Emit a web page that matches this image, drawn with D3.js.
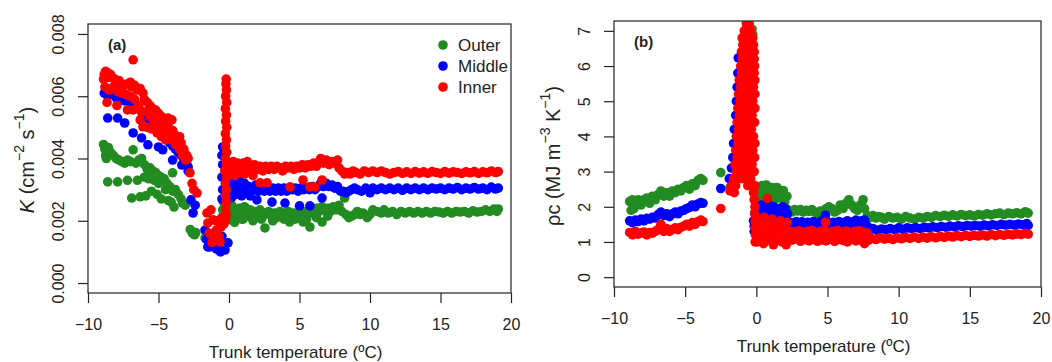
<!DOCTYPE html>
<html>
<head>
<meta charset="utf-8">
<script src="https://cdn.jsdelivr.net/npm/d3@7"></script>
<style>
  body { margin: 0; background: #fff; }
  svg { display: block; font-family: "Liberation Sans", Arial, Helvetica, sans-serif; }
</style>
</head>
<body>
<svg id="chart" width="1052" height="362"></svg>
<script>
// Axis ticks and series
const tempTicks = [-10, -5, 0, 5, 10, 15, 20];
const kTicks = [0, 0.002, 0.004, 0.006, 0.008];
const rcTicks = [0, 1, 2, 3, 4, 5, 6, 7];
const seriesNames = ["Outer", "Middle", "Inner"];
const seriesColors = ["#228B22", "#0000FF", "#FF0000"];

// Panel (a): [trunk temperature (°C), K in 1e-3 cm2 s-1]
const outerK = [
  [-8.9,4.45],[-8.8,4.3],[-8.75,4.1],[-8.7,4.0],[-8.55,4.35],[-8.4,4.2],[-8.6,3.25],[-8.2,4.1],[-8.0,4.0],
  [-7.9,3.25],[-7.8,3.95],[-7.6,3.9],[-7.4,3.85],[-7.2,3.3],[-7.2,3.95],[-7.0,3.9],[-6.9,2.73],[-6.8,4.28],
  [-6.6,3.85],[-6.5,3.3],[-6.4,3.95],[-6.3,2.77],[-6.2,4.0],[-6.0,3.8],[-6.0,3.4],[-5.9,2.8],[-5.8,3.65],
  [-5.7,3.35],[-5.6,3.7],[-5.5,2.95],[-5.4,3.6],[-5.3,3.3],[-5.2,3.55],[-5.1,2.85],[-5.0,3.45],[-5.0,3.2],
  [-4.8,3.4],[-4.8,2.7],[-4.6,3.35],[-4.5,3.0],[-4.4,3.2],[-4.3,2.65],[-4.2,3.1],[-4.1,2.6],[-4.0,3.54],
  [-4.0,2.95],[-3.9,2.44],[-3.8,3.0],[-3.6,2.85],[-3.4,2.7],[-3.3,2.57],[-3.1,2.5],[-2.75,1.72],[-2.6,1.6],
  [-2.45,1.55],[-2.35,1.62],[-1.7,1.45],
  [-0.5,2.1],[-0.45,2.35],[-0.4,2.6],[-0.3,2.7],[-0.2,2.4],[-0.1,2.2],[0.0,2.05],[0.1,2.3],[0.2,2.5],[0.3,2.2],
  [0.3,2.0],[0.4,1.95],[0.5,2.35],[0.6,2.15],[0.7,2.4],[0.8,2.2],[0.9,2.05],[1.0,2.3],[1.0,2.05],[1.1,2.45],
  [1.2,2.15],[1.3,2.25],[1.5,2.35],[1.6,2.1],[1.7,2.0],[1.8,2.3],[2.0,2.2],[2.2,2.35],[2.3,2.05],[2.4,2.15],
  [2.55,1.77],[2.6,2.25],[2.8,2.3],[3.0,2.15],[3.1,2.0],[3.2,2.25],[3.4,2.1],[3.6,2.3],[3.8,2.2],[3.9,2.05],
  [4.0,2.25],[4.3,1.96],[4.2,2.3],[4.4,2.15],[4.6,2.25],[4.7,2.05],[4.8,2.2],[5.0,2.3],[5.2,2.2],[5.25,1.96],
  [5.4,2.3],[5.5,2.05],[5.6,2.2],[5.74,1.8],[5.8,2.35],[6.0,2.25],[6.2,2.4],[6.2,2.1],[6.4,2.3],[6.6,1.96],
  [6.6,2.45],[6.8,2.35],[7.0,2.4],[7.0,2.15],[7.2,2.3],[7.4,2.45],[7.6,2.35],[7.8,2.5],[8.0,2.3],[8.2,2.73],
  [8.3,2.2],[8.5,2.1],[8.7,2.15],[8.9,2.2],[9.1,2.3],[9.3,2.2],[9.5,2.25],[9.8,2.1],[10.0,2.2],[10.2,2.35],
  [10.5,2.3],[10.8,2.25],[11.0,2.35],[11.3,2.25],[11.6,2.3],[11.9,2.2],[12.2,2.3],[12.5,2.25],[12.8,2.3],
  [13.1,2.25],[13.4,2.3],[13.7,2.25],[14.0,2.3],[14.3,2.25],[14.6,2.3],[14.9,2.28],[15.2,2.25],[15.5,2.3],
  [15.8,2.25],[16.1,2.3],[16.4,2.28],[16.7,2.3],[17.0,2.25],[17.3,2.32],[17.6,2.28],[17.9,2.3],[18.2,2.35],
  [18.5,2.3],[18.8,2.38],[19.0,2.3],[19.1,2.38]
];
const middleK = [
  [-8.85,6.1],[-8.7,6.2],[-8.6,6.0],[-8.4,6.15],[-8.2,6.05],[-8.0,5.95],[-7.8,6.0],[-7.6,5.9],[-7.4,5.85],
  [-7.2,5.95],[-7.0,5.8],[-6.8,5.75],[-6.6,5.7],[-6.4,5.6],[-6.2,5.5],[-6.0,5.4],[-5.8,5.3],[-5.6,5.2],
  [-5.4,5.1],[-5.2,5.0],[-5.0,4.9],[-4.8,4.8],[-4.6,4.7],[-4.4,4.6],[-4.2,4.5],[-4.0,4.4],[-3.8,4.3],
  [-3.6,4.2],[-3.4,4.1],[-3.2,3.95],[-3.0,3.8],[-2.9,3.6],
  [-8.6,5.3],[-7.9,5.3],[-7.4,5.14],[-6.8,4.82],[-6.2,4.66],[-5.75,4.44],[-5.0,4.37],[-4.7,4.28],[-4.0,3.95],
  [-3.35,3.79],[-2.9,3.73],[-2.7,2.67],[-2.55,2.25],[-2.4,2.5],[-1.7,1.7],[-1.6,1.4],[-1.5,1.16],[-1.35,1.16],
  [-1.2,1.2],[-1.1,1.3],[-0.9,1.1],[-0.7,1.05],[-0.6,1.0],[-0.28,1.06],[-0.07,1.29],
  [-0.5,1.5],[-0.45,2.0],[-0.5,2.7],[-0.45,3.0],[-0.5,3.4],[-0.45,3.8],[-0.5,4.1],[-0.45,4.37],
  [-0.2,3.1],[0.0,2.9],[0.1,3.2],[0.2,2.75],[0.3,3.05],[0.4,3.3],[0.5,2.85],[0.6,3.1],[0.7,2.95],[0.8,3.25],
  [0.9,2.8],[1.0,3.05],[1.1,3.2],[1.2,2.9],[1.4,3.1],[1.5,2.8],[1.7,3.0],[1.9,3.15],[1.98,2.67],[2.1,2.95],
  [2.3,3.1],[2.5,2.95],[2.7,3.05],[2.9,2.95],[3.05,2.6],[3.1,3.05],[3.3,2.95],[3.5,3.05],[3.7,2.95],
  [3.97,2.57],[3.9,3.05],[4.1,2.95],[4.3,3.05],[4.5,3.0],[4.7,3.05],[5.0,2.48],[4.9,2.95],[5.1,3.05],
  [5.3,3.0],[5.5,3.05],[5.74,2.48],[5.7,3.0],[5.9,3.1],[6.1,3.0],[6.3,3.1],[6.5,3.2],[6.6,2.73],[6.7,3.1],
  [6.9,3.2],[7.1,3.1],[7.3,3.15],[7.5,3.05],[7.7,3.1],[7.9,2.95],[8.1,2.95],[8.3,2.9],[8.5,2.95],[8.7,3.0],
  [8.9,3.05],[9.1,3.0],[9.4,2.95],[9.7,3.05],[10.0,2.9],[10.2,3.05],[10.5,3.0],[10.8,3.05],[11.1,3.0],
  [11.4,3.05],[11.7,3.0],[12.0,3.05],[12.3,2.98],[12.6,3.05],[12.9,3.0],[13.2,3.05],[13.5,3.0],[13.8,3.05],
  [14.1,3.0],[14.4,3.05],[14.7,3.02],[15.0,3.05],[15.3,3.0],[15.6,3.05],[15.9,3.02],[16.2,3.07],[16.5,3.0],
  [16.8,3.05],[17.1,3.02],[17.4,3.07],[17.7,3.02],[18.0,3.05],[18.3,3.0],[18.6,3.08],[18.9,3.02],[19.1,3.05]
];
const innerK = [
  [-8.9,6.55],[-8.85,6.7],[-8.75,6.8],[-8.6,6.75],[-8.5,6.6],[-8.4,6.7],[-8.3,6.6],[-8.1,6.55],[-8.0,6.45],
  [-7.8,6.5],[-7.6,6.4],[-7.4,6.35],[-7.2,6.4],[-7.0,6.45],[-6.8,7.17],[-6.9,6.3],[-6.7,6.35],[-6.5,6.2],
  [-6.3,6.25],[-6.1,6.1],[-6.0,5.9],[-5.8,5.8],[-5.6,5.7],[-5.4,5.6],[-5.2,5.55],[-5.0,5.45],[-4.8,5.35],
  [-4.6,5.2],[-4.4,5.1],[-4.33,5.3],[-4.2,4.95],[-4.0,4.9],[-3.8,4.75],[-3.6,4.6],[-3.4,4.5],[-3.2,4.3],
  [-3.0,4.1],[-2.9,4.0],
  [-8.8,6.3],[-8.5,6.2],[-8.2,6.3],[-7.9,6.15],[-7.6,6.1],[-7.3,6.05],[-7.0,6.0],[-6.7,5.9],[-6.4,5.7],
  [-6.2,5.5],[-5.9,5.5],[-5.6,5.35],[-5.3,5.2],[-5.0,5.1],[-4.7,4.95],[-4.4,4.85],[-4.1,4.6],[-3.8,4.45],
  [-3.5,4.3],[-3.3,4.1],[-3.1,3.95],
  [-8.65,5.8],[-7.95,5.7],[-7.2,5.56],[-6.8,5.56],[-6.3,5.24],[-6.1,5.02],[-5.8,5.0],[-5.5,4.95],[-5.1,4.82],
  [-4.8,4.7],[-4.5,4.6],[-4.05,5.24],[-3.5,4.7],[-2.98,4.05],[-2.77,3.54],[-2.62,3.2],[-2.5,3.0],
  [-2.27,2.89],[-1.56,2.25],[-1.28,2.35],[-1.5,1.93],[-1.4,1.6],[-1.13,1.48],[-1.13,2.03],[-0.9,1.7],
  [-0.9,2.0],[-0.64,1.32],[-0.57,1.8],[-0.5,2.1],[-1.2,1.3],[-0.7,1.5],[-0.35,1.9],
  [-0.26,2.0],[-0.18,2.2],[-0.24,2.4],[-0.16,2.6],[-0.24,2.8],[-0.18,3.0],[-0.26,3.2],[-0.16,3.4],
  [-0.24,3.6],[-0.18,3.8],[-0.26,4.0],[-0.16,4.2],[-0.24,4.4],[-0.18,4.6],[-0.26,4.8],[-0.16,5.0],
  [-0.24,5.2],[-0.18,5.4],[-0.26,5.6],[-0.16,5.8],[-0.24,6.0],[-0.18,6.2],[-0.22,6.4],[-0.2,6.55],
  [-0.3,3.6],[-0.1,3.75],[0.0,3.5],[0.1,3.85],[0.2,3.6],[0.3,3.9],[0.4,3.45],[0.5,3.7],[0.6,3.85],[0.7,3.55],
  [0.8,3.75],[0.9,3.6],[1.0,3.85],[1.1,3.5],[1.2,3.7],[1.3,3.9],[1.4,3.6],[1.6,3.75],[1.7,3.45],[1.8,3.8],
  [2.0,3.65],[2.2,3.22],[2.2,3.75],[2.4,3.6],[2.6,3.75],[2.7,3.22],[2.8,3.65],[3.0,3.75],[3.2,3.65],
  [3.4,3.75],[3.6,3.7],[3.8,3.6],[4.0,3.75],[4.2,3.7],[4.33,3.09],[4.4,3.75],[4.6,3.65],[4.8,3.75],[5.0,3.7],
  [5.25,3.31],[5.2,3.8],[5.4,3.7],[5.6,3.8],[5.74,3.09],[5.8,3.75],[6.0,3.85],[6.1,3.09],[6.2,3.75],
  [6.4,3.9],[6.5,4.0],[6.6,3.31],[6.7,3.85],[6.9,3.95],[7.1,3.8],[7.3,3.9],[7.5,3.85],[7.7,3.95],[7.8,3.7],
  [8.0,3.6],[8.2,3.5],[8.4,3.55],[8.6,3.5],[8.8,3.6],[9.0,3.55],[9.3,3.5],[9.6,3.6],[9.9,3.55],[10.2,3.6],
  [10.5,3.55],[10.8,3.6],[11.1,3.55],[11.4,3.5],[11.7,3.55],[12.0,3.58],[12.3,3.52],[12.6,3.57],[12.9,3.52],
  [13.2,3.58],[13.5,3.53],[13.8,3.57],[14.1,3.52],[14.4,3.58],[14.7,3.55],[15.0,3.52],[15.3,3.58],
  [15.6,3.53],[15.9,3.57],[16.2,3.55],[16.5,3.52],[16.8,3.57],[17.1,3.54],[17.4,3.58],[17.7,3.52],
  [18.0,3.57],[18.3,3.54],[18.6,3.6],[18.9,3.55],[19.1,3.58]
];

// Panel (b): [trunk temperature (°C), volumetric heat capacity (MJ m-3 K-1)]
const outerRC = [
  [-8.9,2.15],[-8.8,1.9],[-8.7,2.2],[-8.6,1.95],[-8.5,2.1],[-8.3,2.2],[-8.1,2.05],[-7.9,2.2],[-7.7,2.25],
  [-7.5,2.1],[-7.3,2.3],[-7.1,2.2],[-6.9,2.35],[-6.7,2.45],[-6.5,2.3],[-6.3,2.4],[-6.1,2.3],[-5.9,2.45],
  [-5.7,2.4],[-5.5,2.5],[-5.3,2.45],[-5.1,2.55],[-4.9,2.6],[-4.7,2.5],[-4.5,2.65],[-4.3,2.6],[-4.1,2.75],
  [-3.9,2.8],[-3.75,2.75],[-2.5,2.97],
  [-1.85,2.55],[-1.7,2.8],[-1.6,3.12],[-1.3,4.4],[-1.2,4.5],[-0.35,6.6],[-0.25,6.9],[-0.3,7.05],
  [-0.1,1.85],[0.05,2.2],[0.15,2.5],[0.3,2.3],[0.4,2.6],[0.5,2.15],[0.6,2.45],[0.7,2.62],[0.8,2.25],
  [0.9,2.5],[1.0,2.3],[1.1,2.55],[1.2,2.15],[1.3,2.42],[1.45,2.55],[1.55,2.25],[1.7,2.4],[1.9,2.46],
  [2.0,2.15],[2.15,2.3],
  [2.3,1.9],[2.5,1.85],[2.7,1.92],[2.9,1.88],[3.1,1.92],[3.3,1.85],[3.5,1.9],[3.7,1.87],[3.9,1.92],
  [4.1,1.85],[4.3,1.8],[4.5,1.88],[4.7,1.85],[4.9,1.95],[5.1,2.0],[5.3,1.95],[5.5,1.85],[5.7,1.9],[5.9,2.05],
  [6.1,1.95],[6.3,2.1],[6.5,2.2],[6.7,2.05],[6.9,1.95],[7.1,1.9],[7.3,2.05],[7.5,2.2],[7.6,1.95],[7.8,1.75],
  [8.0,1.7],[8.2,1.75],[8.4,1.68],[8.6,1.72],[8.8,1.7],[9.0,1.65],[9.3,1.72],[9.6,1.68],[9.9,1.7],
  [10.2,1.65],[10.5,1.72],[10.8,1.68],[11.1,1.65],[11.4,1.7],[11.7,1.68],[12.0,1.72],[12.3,1.7],
  [12.6,1.75],[12.9,1.72],[13.2,1.76],[13.5,1.73],[13.8,1.77],[14.1,1.74],[14.4,1.78],[14.7,1.75],
  [15.0,1.77],[15.3,1.74],[15.6,1.78],[15.9,1.76],[16.2,1.8],[16.5,1.77],[16.8,1.8],[17.1,1.82],
  [17.4,1.78],[17.7,1.82],[18.0,1.8],[18.3,1.83],[18.6,1.8],[18.9,1.86],[19.1,1.82]
];
const middleRC = [
  [-8.9,1.6],[-8.7,1.55],[-8.5,1.62],[-8.3,1.58],[-8.1,1.65],[-7.9,1.6],[-7.7,1.67],[-7.5,1.65],[-7.3,1.7],
  [-7.1,1.68],[-6.9,1.78],[-6.7,1.85],[-6.5,1.75],[-6.3,1.8],[-6.1,1.72],[-5.9,1.8],[-5.7,1.85],[-5.5,1.8],
  [-5.3,1.88],[-5.1,1.9],[-4.9,1.95],[-4.7,1.98],[-4.5,2.05],[-4.3,2.0],[-4.1,2.08],[-3.9,2.12],
  [-3.75,2.1],[-2.5,2.52],
  [-1.9,2.8],[-1.75,3.1],[-1.65,3.4],[-1.6,3.8],[-1.55,4.2],[-1.45,4.6],[-1.4,5.0],[-1.35,5.4],[-1.3,5.8],
  [-1.27,6.23],[-1.0,6.4],[-0.9,6.6],[-0.2,1.6],[-0.15,1.3],
  [-0.15,1.45],[0.0,1.7],[0.1,2.0],[0.2,1.8],[0.3,1.6],[0.4,2.05],[0.5,1.85],[0.6,1.65],[0.77,1.98],
  [0.8,1.75],[0.9,2.05],[1.0,1.85],[1.1,1.65],[1.2,2.0],[1.3,1.8],[1.45,1.95],[1.55,1.7],[1.7,1.9],
  [1.85,2.0],[1.9,1.75],[2.05,1.95],[2.2,1.8],
  [2.4,1.55],[2.6,1.5],[2.8,1.58],[3.0,1.52],[3.2,1.57],[3.4,1.5],[3.6,1.56],[3.8,1.52],[4.0,1.58],
  [4.2,1.5],[4.4,1.55],[4.6,1.6],[4.86,1.76],[4.8,1.52],[5.0,1.57],[5.2,1.5],[5.4,1.56],[5.6,1.52],
  [5.8,1.58],[6.0,1.5],[6.2,1.56],[6.4,1.6],[6.6,1.52],[6.8,1.57],[7.0,1.62],[7.2,1.55],[7.4,1.6],
  [7.6,1.62],[7.8,1.45],
  [2.7,1.42],[3.5,1.43],[4.3,1.42],[5.1,1.43],[5.9,1.42],[6.7,1.43],[7.5,1.44],
  [8.0,1.35],[8.2,1.38],[8.5,1.33],[8.8,1.37],[9.1,1.35],[9.4,1.38],[9.7,1.35],[10.0,1.4],[10.3,1.36],
  [10.6,1.4],[10.9,1.38],[11.2,1.41],[11.5,1.38],[11.8,1.42],[12.1,1.4],[12.4,1.43],[12.7,1.41],
  [13.0,1.44],[13.3,1.42],[13.6,1.45],[13.9,1.43],[14.2,1.46],[14.5,1.44],[14.8,1.47],[15.1,1.45],
  [15.4,1.47],[15.7,1.45],[16.0,1.48],[16.3,1.46],[16.6,1.49],[16.9,1.47],[17.2,1.5],[17.5,1.48],
  [17.8,1.5],[18.1,1.48],[18.4,1.51],[18.7,1.49],[19.0,1.52],[19.1,1.47]
];
const innerRC = [
  [-8.9,1.27],[-8.7,1.2],[-8.5,1.3],[-8.3,1.22],[-8.1,1.25],[-7.9,1.28],[-7.7,1.2],[-7.5,1.27],[-7.3,1.25],
  [-7.1,1.3],[-6.9,1.35],[-6.7,1.5],[-6.5,1.3],[-6.3,1.38],[-6.1,1.3],[-5.9,1.35],[-5.7,1.4],[-5.5,1.35],
  [-5.3,1.42],[-5.1,1.45],[-4.9,1.5],[-4.7,1.45],[-4.5,1.55],[-4.3,1.5],[-4.1,1.58],[-3.9,1.62],
  [-3.75,1.58],[-2.5,1.95],
  [-0.7,7.2],[-0.5,7.2],
  [-0.85,7.0],[-0.6,7.0],[-0.4,7.0],
  [-1.0,6.8],[-0.75,6.8],[-0.5,6.8],[-0.25,6.8],
  [-0.95,6.6],[-0.7,6.6],[-0.45,6.6],[-0.2,6.6],
  [-1.05,6.4],[-0.8,6.4],[-0.55,6.4],[-0.3,6.4],[-0.15,6.4],
  [-1.0,6.2],[-0.7,6.2],[-0.4,6.2],[-0.15,6.2],
  [-1.1,6.0],[-0.85,6.0],[-0.6,6.0],[-0.35,6.0],[-0.12,6.0],
  [-1.05,5.8],[-0.75,5.8],[-0.45,5.8],[-0.15,5.8],
  [-1.2,5.6],[-0.9,5.6],[-0.6,5.6],[-0.3,5.6],[-0.1,5.6],
  [-1.1,5.4],[-0.8,5.4],[-0.5,5.4],[-0.2,5.4],
  [-1.25,5.2],[-0.95,5.2],[-0.65,5.2],[-0.35,5.2],[-0.1,5.2],
  [-1.15,5.0],[-0.85,5.0],[-0.55,5.0],[-0.25,5.0],
  [-1.3,4.8],[-1.0,4.8],[-0.7,4.8],[-0.4,4.8],[-0.1,4.8],
  [-1.2,4.6],[-0.9,4.6],[-0.6,4.6],[-0.3,4.6],
  [-1.35,4.4],[-1.05,4.4],[-0.75,4.4],[-0.45,4.4],[-0.12,4.4],
  [-1.25,4.2],[-0.95,4.2],[-0.65,4.2],[-0.35,4.2],
  [-1.4,4.0],[-1.1,4.0],[-0.8,4.0],[-0.5,4.0],[-0.2,4.0],
  [-1.3,3.8],[-1.0,3.8],[-0.7,3.8],[-0.4,3.8],[-0.1,3.8],
  [-1.45,3.6],[-1.15,3.6],[-0.85,3.6],[-0.55,3.6],[-0.25,3.6],
  [-1.35,3.4],[-1.05,3.4],[-0.75,3.4],[-0.45,3.4],[-0.12,3.4],
  [-1.5,3.2],[-1.2,3.2],[-0.9,3.2],[-0.6,3.2],[-0.3,3.2],
  [-1.4,3.0],[-1.1,3.0],[-0.8,3.0],[-0.5,3.0],[-0.15,3.0],
  [-1.6,2.8],[-1.3,2.8],[-1.0,2.8],[-0.7,2.8],[-0.4,2.8],
  [-1.75,2.6],[-1.45,2.6],[-0.6,2.6],[-0.25,2.6],[-0.1,2.6],
  [-1.85,2.45],[-1.55,2.4],[-0.2,2.4],
  [-0.15,2.2],[-0.1,2.0],[-0.12,1.8],[-0.08,1.6],[-0.1,1.4],[-0.06,1.2],[-0.08,1.0],
  [0.05,1.0],[0.1,1.35],[0.2,1.65],[0.3,1.15],[0.4,1.45],[0.5,0.95],[0.55,1.7],[0.65,1.25],[0.77,2.24],
  [0.8,1.55],[0.9,1.05],[1.0,1.35],[1.1,1.65],[1.2,0.92],[1.25,1.2],[1.4,1.5],[1.5,1.05],[1.6,1.3],
  [1.7,1.6],[1.8,1.0],[1.9,1.4],[2.0,1.2],[2.1,0.92],[2.15,1.55],[2.25,1.1],
  [2.4,1.3],[2.7,1.28],[3.0,1.32],[3.3,1.27],[3.6,1.3],[3.9,1.33],[4.2,1.27],[4.5,1.3],[4.86,1.56],
  [4.8,1.32],[5.1,1.27],[5.4,1.3],[5.7,1.33],[6.0,1.28],[6.3,1.31],[6.6,1.27],[6.9,1.3],[7.2,1.32],
  [7.5,1.28],[7.8,1.25],
  [2.5,1.05],[2.8,1.08],[3.1,1.02],[3.4,1.07],[3.7,1.03],[4.0,1.08],[4.3,1.02],[4.6,1.06],[4.9,1.03],
  [5.2,1.08],[5.5,1.02],[5.8,1.07],[6.1,1.04],[6.4,1.0],[6.7,1.07],[7.0,1.03],[7.3,1.06],[7.6,0.95],[7.9,1.05],
  [2.55,1.18],[3.2,1.17],[3.85,1.18],[4.4,1.16],[5.0,1.18],[5.6,1.16],[6.2,1.18],[6.8,1.16],[7.4,1.18],
  [8.1,1.1],[8.4,1.07],[8.7,1.12],[9.0,1.08],[9.3,1.11],[9.6,1.07],[9.9,1.12],[10.2,1.09],[10.5,1.13],
  [10.8,1.1],[11.1,1.14],[11.4,1.1],[11.7,1.14],[12.0,1.11],[12.3,1.15],[12.6,1.12],[12.9,1.16],
  [13.2,1.13],[13.5,1.17],[13.8,1.14],[14.1,1.18],[14.4,1.15],[14.7,1.19],[15.0,1.16],[15.3,1.19],
  [15.6,1.17],[15.9,1.2],[16.2,1.17],[16.5,1.21],[16.8,1.18],[17.1,1.21],[17.4,1.19],[17.7,1.22],
  [18.0,1.2],[18.3,1.23],[18.6,1.21],[18.9,1.24],[19.1,1.22]
];

const svg = d3.select("#chart");
const textColor = "#222";
const dotRadius = 4.8;

function drawPanel(p) {
  const g = svg.append("g");

  // R-style axes: x fixed to the tick range, y padded by 4%
  const x = d3.scaleLinear().domain([-10, 20]).range([p.left, p.right]);
  const lo = p.yTicks[0], hi = p.yTicks[p.yTicks.length - 1];
  const pad = (hi - lo) * 0.04;
  const y = d3.scaleLinear().domain([lo - pad, hi + pad]).range([p.bottom, p.top]);

  g.append("clipPath").attr("id", "clip-" + p.id)
    .append("rect")
    .attr("x", p.left).attr("y", p.top)
    .attr("width", p.right - p.left).attr("height", p.bottom - p.top);

  const pts = g.append("g").attr("clip-path", `url(#clip-${p.id})`);
  p.series.forEach((s, i) => {
    pts.append("g")
      .selectAll("circle")
      .data(s)
      .join("circle")
      .attr("cx", (d) => x(d[0]))
      .attr("cy", (d) => y(d[1] * p.unit))
      .attr("r", dotRadius)
      .attr("fill", seriesColors[i]);
  });

  // plot box
  g.append("rect")
    .attr("x", p.left).attr("y", p.top)
    .attr("width", p.right - p.left).attr("height", p.bottom - p.top)
    .attr("fill", "none").attr("stroke", "#222").attr("stroke-width", 1.2);

  // x axis
  const xa = g.append("g")
    .attr("transform", `translate(0,${p.bottom})`)
    .call(d3.axisBottom(x).tickValues(tempTicks).tickSize(10).tickSizeOuter(0).tickPadding(16)
      .tickFormat((d) => (d < 0 ? "\u2212" + Math.abs(d) : String(d))));
  xa.select(".domain").remove();
  xa.selectAll("line").attr("stroke", "#222").attr("stroke-width", 1.2);
  xa.selectAll("text").attr("font-size", 16).attr("fill", textColor)
    .attr("font-family", "Liberation Sans, Arial, sans-serif");

  // y axis, labels parallel to the axis
  const ya = g.append("g")
    .attr("transform", `translate(${p.left},0)`)
    .call(d3.axisLeft(y).tickValues(p.yTicks).tickSize(10).tickSizeOuter(0).tickFormat(p.yFormat));
  ya.select(".domain").remove();
  ya.selectAll("line").attr("stroke", "#222").attr("stroke-width", 1.2);
  ya.selectAll("text")
    .attr("transform", "rotate(-90)")
    .attr("x", 0).attr("y", -30).attr("dy", null)
    .attr("dominant-baseline", "central")
    .attr("text-anchor", "middle")
    .attr("font-size", 16).attr("fill", textColor)
    .attr("font-family", "Liberation Sans, Arial, sans-serif");

  // x title
  g.append("text")
    .attr("x", (p.left + p.right) / 2 - 4)
    .attr("y", p.bottom + 59)
    .attr("text-anchor", "middle")
    .attr("dominant-baseline", "central")
    .attr("font-size", 17).attr("fill", textColor)
    .text("Trunk temperature (\u00baC)");

  // y title with superscripts
  const yt = g.append("text")
    .attr("transform", `translate(${p.left - 61},${p.yTitleY}) rotate(-90)`)
    .attr("text-anchor", "middle")
    .attr("dominant-baseline", "central")
    .attr("font-size", 20).attr("fill", textColor);
  p.yTitle.forEach((part) => {
    const t = yt.append("tspan").text(part.t);
    if (part.italic) t.attr("font-style", "italic");
    if (part.sup) t.attr("font-size", 14).attr("dy", -8);
    if (part.back) t.attr("dy", 8);
  });

  // panel letter
  g.append("text")
    .attr("x", p.left + 20).attr("y", p.top + 20)
    .attr("dominant-baseline", "central")
    .attr("font-size", 15).attr("font-weight", "bold").attr("fill", textColor)
    .text(p.label);
}

drawPanel({
  id: "a", label: "(a)",
  left: 88, right: 511, top: 24, bottom: 293,
  yTicks: kTicks, unit: 1e-3,
  yFormat: (d) => d.toFixed(3),
  series: [outerK, middleK, innerK],
  yTitleY: 160,
  yTitle: [
    { t: "K", italic: true }, { t: " (cm" }, { t: "\u22122", sup: true },
    { t: " s", back: true }, { t: "\u22121", sup: true }, { t: ")", back: true }
  ]
});

drawPanel({
  id: "b", label: "(b)",
  left: 614, right: 1041, top: 21, bottom: 287,
  yTicks: rcTicks, unit: 1,
  yFormat: (d) => String(d),
  series: [outerRC, middleRC, innerRC],
  yTitleY: 156,
  yTitle: [
    { t: "\u03c1c (MJ m" }, { t: "\u22123", sup: true },
    { t: " K", back: true }, { t: "\u22121", sup: true }, { t: ")", back: true }
  ]
});

// legend in panel (a)
const legend = svg.append("g").attr("transform", "translate(443,45)");
seriesNames.forEach((name, i) => {
  const row = legend.append("g").attr("transform", `translate(0,${i * 21})`);
  row.append("circle").attr("r", dotRadius).attr("fill", seriesColors[i]);
  row.append("text")
    .attr("x", 15).attr("dominant-baseline", "central")
    .attr("font-size", 17).attr("fill", textColor)
    .text(name);
});
</script>
</body>
</html>
